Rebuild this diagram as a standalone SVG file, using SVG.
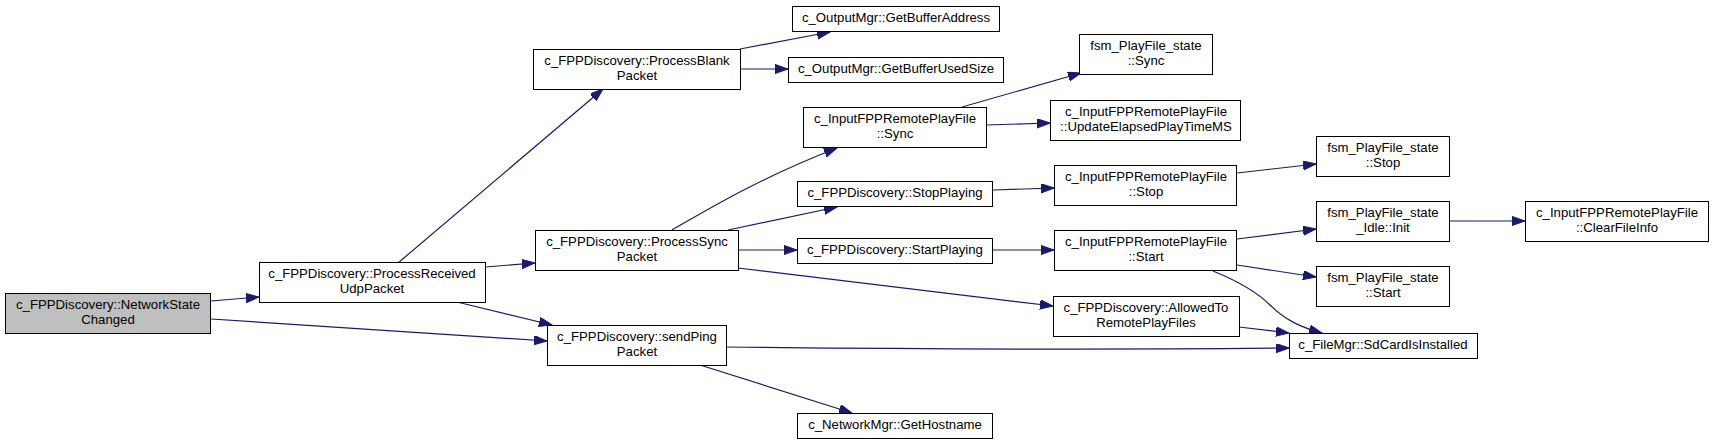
<svg xmlns="http://www.w3.org/2000/svg" width="1713" height="444" viewBox="0 0 1713 444">
<style>
.n rect{fill:#ffffff;stroke:#000000;stroke-width:1}
.n.root rect{fill:#bfbfbf}
.n text{font-family:"Liberation Sans",Arial,sans-serif;font-size:13.2px;fill:#000000;text-anchor:middle}
.e path{fill:none;stroke:#191970;stroke-width:1.2;marker-end:url(#ah)}
</style>
<defs>
<marker id="ah" markerUnits="userSpaceOnUse" markerWidth="14" markerHeight="10" refX="13" refY="4.6" orient="auto">
<path d="M0,0 L13,4.6 L0,9.2 z" fill="#191970" stroke="#191970" stroke-width="1"/>
</marker>
</defs>
<rect width="1713" height="444" fill="#ffffff"/>
<g id="edges" class="e">
<path d="M211,301 L259,297"/>
<path d="M211,319 L547,341"/>
<path d="M398,263 L603,89"/>
<path d="M485,267 L535,263"/>
<path d="M457,302 L552,325"/>
<path d="M740,49 L830,32"/>
<path d="M740,69 L788,69"/>
<path d="M672,230 C712,207 760,178 837,148"/>
<path d="M728,230 L837,207"/>
<path d="M738,250 L797,250"/>
<path d="M738,268 L1053,306"/>
<path d="M726,347 C900,349 1100,350 1289,348"/>
<path d="M700,365 L852,413"/>
<path d="M962,107 L1081,73"/>
<path d="M987,125 L1050,123"/>
<path d="M993,190 L1054,188"/>
<path d="M993,250 L1054,250"/>
<path d="M1237,173 L1316,164"/>
<path d="M1237,239 L1316,229"/>
<path d="M1237,265 L1316,277"/>
<path d="M1213,271 C1235,280 1255,290 1270,305 C1285,320 1300,327 1322,333"/>
<path d="M1239,327 L1289,333"/>
<path d="M1450,221 L1525,221"/>
</g>
<g id="node_NetworkStateChanged" class="n root">
<rect x="5.5" y="293.5" width="205" height="40"/>
<text x="108" y="309">c_FPPDiscovery::NetworkState</text>
<text x="108" y="324">Changed</text>
</g>
<g id="node_ProcessReceivedUdpPacket" class="n">
<rect x="259.5" y="262.5" width="226" height="40"/>
<text x="372" y="278">c_FPPDiscovery::ProcessReceived</text>
<text x="372" y="293">UdpPacket</text>
</g>
<g id="node_ProcessBlankPacket" class="n">
<rect x="533.5" y="49.5" width="207" height="40"/>
<text x="637" y="65">c_FPPDiscovery::ProcessBlank</text>
<text x="637" y="80">Packet</text>
</g>
<g id="node_ProcessSyncPacket" class="n">
<rect x="535.5" y="230.5" width="203" height="40"/>
<text x="637" y="246">c_FPPDiscovery::ProcessSync</text>
<text x="637" y="261">Packet</text>
</g>
<g id="node_sendPingPacket" class="n">
<rect x="547.5" y="325.5" width="179" height="40"/>
<text x="637" y="341">c_FPPDiscovery::sendPing</text>
<text x="637" y="356">Packet</text>
</g>
<g id="node_GetBufferAddress" class="n">
<rect x="792.5" y="6.5" width="207" height="25"/>
<text x="896" y="22">c_OutputMgr::GetBufferAddress</text>
</g>
<g id="node_GetBufferUsedSize" class="n">
<rect x="788.5" y="57.5" width="215" height="25"/>
<text x="896" y="73">c_OutputMgr::GetBufferUsedSize</text>
</g>
<g id="node_InputSync" class="n">
<rect x="803.5" y="107.5" width="183" height="40"/>
<text x="895" y="123">c_InputFPPRemotePlayFile</text>
<text x="895" y="138">::Sync</text>
</g>
<g id="node_StopPlaying" class="n">
<rect x="797.5" y="181.5" width="195" height="25"/>
<text x="895" y="197">c_FPPDiscovery::StopPlaying</text>
</g>
<g id="node_StartPlaying" class="n">
<rect x="797.5" y="238.5" width="195" height="25"/>
<text x="895" y="254">c_FPPDiscovery::StartPlaying</text>
</g>
<g id="node_GetHostname" class="n">
<rect x="797.5" y="413.5" width="195" height="25"/>
<text x="895" y="429">c_NetworkMgr::GetHostname</text>
</g>
<g id="node_fsmSync" class="n">
<rect x="1079.5" y="34.5" width="133" height="40"/>
<text x="1146" y="50">fsm_PlayFile_state</text>
<text x="1146" y="65">::Sync</text>
</g>
<g id="node_UpdateElapsed" class="n">
<rect x="1050.5" y="100.5" width="190" height="40"/>
<text x="1146" y="116">c_InputFPPRemotePlayFile</text>
<text x="1146" y="131">::UpdateElapsedPlayTimeMS</text>
</g>
<g id="node_InputStop" class="n">
<rect x="1054.5" y="165.5" width="182" height="40"/>
<text x="1146" y="181">c_InputFPPRemotePlayFile</text>
<text x="1146" y="196">::Stop</text>
</g>
<g id="node_InputStart" class="n">
<rect x="1054.5" y="230.5" width="182" height="40"/>
<text x="1146" y="246">c_InputFPPRemotePlayFile</text>
<text x="1146" y="261">::Start</text>
</g>
<g id="node_AllowedTo" class="n">
<rect x="1053.5" y="296.5" width="186" height="40"/>
<text x="1146" y="312">c_FPPDiscovery::AllowedTo</text>
<text x="1146" y="327">RemotePlayFiles</text>
</g>
<g id="node_fsmStop" class="n">
<rect x="1316.5" y="136.5" width="133" height="40"/>
<text x="1383" y="152">fsm_PlayFile_state</text>
<text x="1383" y="167">::Stop</text>
</g>
<g id="node_fsmIdleInit" class="n">
<rect x="1316.5" y="201.5" width="133" height="40"/>
<text x="1383" y="217">fsm_PlayFile_state</text>
<text x="1383" y="232">_Idle::Init</text>
</g>
<g id="node_fsmStart" class="n">
<rect x="1316.5" y="266.5" width="133" height="40"/>
<text x="1383" y="282">fsm_PlayFile_state</text>
<text x="1383" y="297">::Start</text>
</g>
<g id="node_SdCardIsInstalled" class="n">
<rect x="1289.5" y="333.5" width="188" height="25"/>
<text x="1383" y="349">c_FileMgr::SdCardIsInstalled</text>
</g>
<g id="node_ClearFileInfo" class="n">
<rect x="1525.5" y="201.5" width="183" height="40"/>
<text x="1617" y="217">c_InputFPPRemotePlayFile</text>
<text x="1617" y="232">::ClearFileInfo</text>
</g>
</svg>
